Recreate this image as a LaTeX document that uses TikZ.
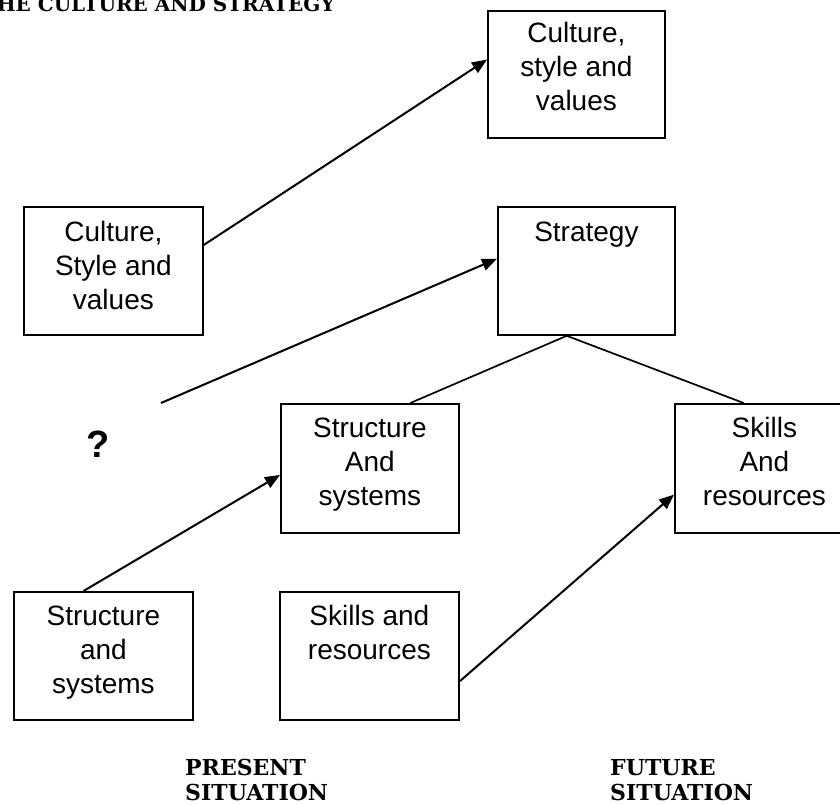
\documentclass[tikz,border=0pt]{standalone}
\usepackage{fontspec}
\setmainfont{Liberation Sans}
\newfontfamily\labfont{DejaVu Serif}
\usetikzlibrary{arrows.meta,calc}
\begin{document}
\begin{tikzpicture}[x=1pt,y=-1pt,
  box/.style={draw, line width=1.8pt, anchor=north west, inner sep=0pt},
  txt/.style={anchor=base, inner sep=0pt, font=\fontsize{28}{34}\selectfont},
  arr/.style={line width=2pt, -{Triangle[length=15pt,width=12pt]}},
  ln/.style={line width=1.7pt},
  sit/.style={anchor=base west, inner sep=0pt, font=\labfont\bfseries\fontsize{22}{25}\selectfont}]
\useasboundingbox (0,0) rectangle (840,805);
\clip (0,0) rectangle (840,805);

% title (cut off at the top of the picture)
\node[anchor=base east, inner sep=0pt, font=\labfont\bfseries\fontsize{20}{24}\selectfont] (title) at (335,12) {THE CULTURE AND STRATEGY};

% boxes
\node[box, minimum width=177pt, minimum height=127pt] (A) at (487,10) {};
\node[box, minimum width=179pt, minimum height=128pt] (B) at (23,206) {};
\node[box, minimum width=177pt, minimum height=128pt] (C) at (497,206) {};
\node[box, minimum width=178pt, minimum height=129pt] (M) at (280,403) {};
\node[box, minimum width=179pt, minimum height=129pt] (D) at (674,403) {};
\node[box, minimum width=179pt, minimum height=128pt] (BL) at (13,591) {};
\node[box, minimum width=179pt, minimum height=128pt] (BM) at (279,591) {};

% box texts
\node[txt] (At) at ($(A.north)+(0,33)$) {\begin{tabular}[t]{@{}c@{}}Culture,\\style and\\values\end{tabular}};
\node[txt] (Bt) at ($(B.north)+(0,35)$) {\begin{tabular}[t]{@{}c@{}}Culture,\\Style and\\values\end{tabular}};
\node[txt] (Ct) at ($(C.north)+(0,35)$) {Strategy};
\node[txt] (Mt) at ($(M.north)+(0,34)$) {\begin{tabular}[t]{@{}c@{}}Structure\\And\\systems\end{tabular}};
\node[txt] (Dt) at ($(D.north)+(0,34)$) {\begin{tabular}[t]{@{}c@{}}Skills\\And\\resources\end{tabular}};
\node[txt] (BLt) at ($(BL.north)+(0,34)$) {\begin{tabular}[t]{@{}c@{}}Structure\\and\\systems\end{tabular}};
\node[txt] (BMt) at ($(BM.north)+(0,34)$) {\begin{tabular}[t]{@{}c@{}}Skills and\\resources\end{tabular}};

% question mark
\node[inner sep=0pt, font=\bfseries\fontsize{38}{40}\selectfont] (q) at (98,444) {?};
\coordinate (qs) at (161,403);

% bottom labels
\node[sit] (present) at (185,775) {\begin{tabular}[t]{@{}l@{}}PRESENT\\SITUATION\end{tabular}};
\node[sit] (future) at (610,775) {\begin{tabular}[t]{@{}l@{}}FUTURE\\SITUATION\end{tabular}};

% connectors
\draw[arr] ($(B.north east)!0.3!(B.south east)$) -- ($(A.north west)!0.385!(A.south west)$);
\draw[arr] (qs) -- ($(C.north west)!0.406!(C.south west)$);
\coordinate (apex) at ($(C.south west)!0.39!(C.south east)$);
\draw[ln] ($(M.north west)!0.725!(M.north east)$) -- (apex) -- ($(D.north west)!0.385!(D.north east)$);
\draw[arr] ($(BL.north west)!0.39!(BL.north east)$) -- ($(M.north west)!0.55!(M.south west)$);
\draw[arr] ($(BM.north east)!0.695!(BM.south east)$) -- ($(D.north west)!0.70!(D.south west)$);
\end{tikzpicture}
\end{document}
